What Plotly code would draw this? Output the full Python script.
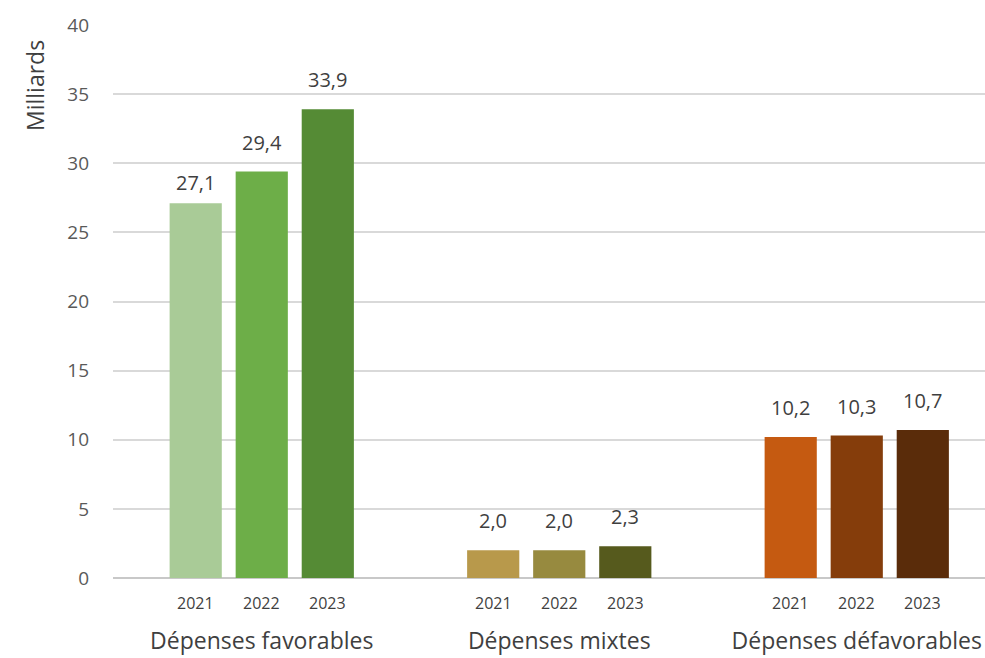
import plotly.graph_objects as go

groups = ["Dépenses favorables", "Dépenses mixtes", "Dépenses défavorables"]
years = ["2021", "2022", "2023"]
values = {
    "2021": [27.1, 2.0, 10.2],
    "2022": [29.4, 2.0, 10.3],
    "2023": [33.9, 2.3, 10.7],
}
colors = {
    "2021": ["#A9CB97", "#B8994B", "#C55A11"],
    "2022": ["#6DAE48", "#978A3F", "#853D0B"],
    "2023": ["#558B35", "#565A1D", "#5A2C0A"],
}
# vertical offset (px) of each value label above its bar
label_shift = {
    "2021": [5, 14, 14],
    "2022": [14, 14, 14],
    "2023": [14, 14, 14],
}
y_ticks = [0, 5, 10, 15, 20, 25, 30, 35, 40]

FONT = "Open Sans"
TXT = "#3F3F3F"
BARGAP = 0.334
BARGROUPGAP = 0.21

xs = list(range(len(groups)))
fig = go.Figure()
for yr in years:
    fig.add_trace(go.Bar(
        x=xs, y=values[yr], name=yr,
        marker=dict(color=colors[yr], line=dict(width=0)),
    ))

slot = (1 - BARGAP) / len(years)
for i in xs:
    for k, yr in enumerate(years):
        xp = i + (k - 1) * slot
        fig.add_annotation(
            x=xp, y=0, xref="x", yref="y",
            text=yr, showarrow=False, yanchor="top", yshift=-12,
            font=dict(family=FONT, size=16, color=TXT),
        )
        fig.add_annotation(
            x=xp, y=values[yr][i], xref="x", yref="y",
            text=f"{values[yr][i]:.1f}".replace(".", ","),
            showarrow=False, yanchor="bottom", yshift=label_shift[yr][i],
            font=dict(family=FONT, size=20, color=TXT),
        )

fig.add_annotation(
    x=-78 / 872, y=(578 - 86) / 553, xref="paper", yref="paper",
    xanchor="center", yanchor="middle",
    text="Milliards", textangle=-90, showarrow=False,
    font=dict(family=FONT, size=23, color=TXT),
)

fig.update_layout(
    width=985, height=658,
    margin=dict(l=113, r=0, t=25, b=80),
    paper_bgcolor="white", plot_bgcolor="white",
    barmode="group", bargap=BARGAP, bargroupgap=BARGROUPGAP,
    showlegend=False,
    xaxis=dict(
        range=[-0.5, -0.5 + 872 / 297.5],
        tickvals=xs, ticktext=groups,
        tickfont=dict(family=FONT, size=23, color=TXT),
        ticks="", showgrid=False, zeroline=False,
        ticklabelstandoff=47,
    ),
    yaxis=dict(
        range=[0, 40], tickvals=y_ticks,
        tickfont=dict(family=FONT, size=19, color="#595959"),
        showgrid=True, gridcolor="#D9D9D9", gridwidth=1.5,
        zeroline=True, zerolinecolor="#C8C8C8", zerolinewidth=1.5,
        ticklabelstandoff=23,
    ),
)

fig.write_html("out.html")
